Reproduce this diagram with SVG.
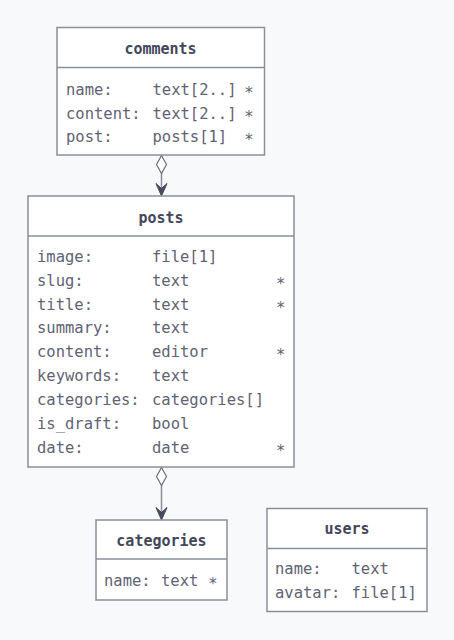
<svg xmlns="http://www.w3.org/2000/svg" width="454" height="640" viewBox="0 0 454 640">
<style>
.bg{fill:#f8f9fb}
.box{fill:#ffffff;stroke:#8b8e9b;stroke-width:1.5}
.sep{stroke:#8b8e9b;stroke-width:1.5}
.title{font-family:"DejaVu Sans Mono","Liberation Mono",monospace;font-size:15px;font-weight:bold;fill:#434759;text-anchor:middle}
.row{font-family:"DejaVu Sans Mono","Liberation Mono",monospace;font-size:15.5px;fill:#5f6374}
.star{text-anchor:middle}
.conn{stroke:#8b8e9b;stroke-width:1.5;fill:none}
.dia{fill:#ffffff;stroke:#6b6e7d;stroke-width:1.2}
.head{fill:#454a5c;stroke:#454a5c;stroke-width:1;stroke-linejoin:round}
</style>
<rect class="bg" x="0" y="0" width="454" height="640"/>

<g id="connectors">
  <line class="conn" x1="161.5" y1="173" x2="161.5" y2="194"/>
  <polygon class="dia" points="161.5,155.5 166.5,164.5 161.5,173.5 156.5,164.5"/>
  <path class="head" d="M156,183.5 L161.5,196 L167,183.5 L161.5,188.5 Z"/>
  <line class="conn" x1="161.5" y1="485" x2="161.5" y2="518"/>
  <polygon class="dia" points="161.5,467.5 166.5,476.5 161.5,485.5 156.5,476.5"/>
  <path class="head" d="M156,507.5 L161.5,520 L167,507.5 L161.5,512.5 Z"/>
</g>

<g id="comments">
  <rect class="box" x="57" y="27.5" width="207.5" height="127.5"/>
  <line class="sep" x1="57" y1="67.5" x2="264.5" y2="67.5"/>
  <text class="title" x="160.5" y="53.5">comments</text>
  <text class="row" x="66" y="95">name:</text>
  <text class="row" x="152.5" y="95">text[2..]</text>
  <text class="row star" x="249" y="98">*</text>
  <text class="row" x="66" y="118.7">content:</text>
  <text class="row" x="152.5" y="118.7">text[2..]</text>
  <text class="row star" x="249" y="121.7">*</text>
  <text class="row" x="66" y="142.4">post:</text>
  <text class="row" x="152.5" y="142.4">posts[1]</text>
  <text class="row star" x="249" y="145.4">*</text>
</g>

<g id="posts">
  <rect class="box" x="28" y="196" width="266" height="271"/>
  <line class="sep" x1="28" y1="236" x2="294" y2="236"/>
  <text class="title" x="161" y="222.5">posts</text>
  <text class="row" x="37" y="261.7">image:</text>
  <text class="row" x="152" y="261.7">file[1]</text>
  <text class="row" x="37" y="285.6">slug:</text>
  <text class="row" x="152" y="285.6">text</text>
  <text class="row star" x="280.7" y="288.6">*</text>
  <text class="row" x="37" y="309.5">title:</text>
  <text class="row" x="152" y="309.5">text</text>
  <text class="row star" x="280.7" y="312.5">*</text>
  <text class="row" x="37" y="333.4">summary:</text>
  <text class="row" x="152" y="333.4">text</text>
  <text class="row" x="37" y="357.3">content:</text>
  <text class="row" x="152" y="357.3">editor</text>
  <text class="row star" x="280.7" y="360.3">*</text>
  <text class="row" x="37" y="381.2">keywords:</text>
  <text class="row" x="152" y="381.2">text</text>
  <text class="row" x="37" y="405.1">categories:</text>
  <text class="row" x="152" y="405.1">categories[]</text>
  <text class="row" x="37" y="429">is_draft:</text>
  <text class="row" x="152" y="429">bool</text>
  <text class="row" x="37" y="452.9">date:</text>
  <text class="row" x="152" y="452.9">date</text>
  <text class="row star" x="280.7" y="455.9">*</text>
</g>

<g id="categories">
  <rect class="box" x="96" y="520" width="131" height="80"/>
  <line class="sep" x1="96" y1="559" x2="227" y2="559"/>
  <text class="title" x="161.5" y="546">categories</text>
  <text class="row" x="104" y="586">name:</text>
  <text class="row" x="161" y="586">text</text>
  <text class="row star" x="213" y="589">*</text>
</g>

<g id="users">
  <rect class="box" x="267" y="508.5" width="160" height="103"/>
  <line class="sep" x1="267" y1="548.5" x2="427" y2="548.5"/>
  <text class="title" x="347" y="534">users</text>
  <text class="row" x="275" y="574.3">name:</text>
  <text class="row" x="351.5" y="574.3">text</text>
  <text class="row" x="275" y="598.3">avatar:</text>
  <text class="row" x="351.5" y="598.3">file[1]</text>
</g>
</svg>
